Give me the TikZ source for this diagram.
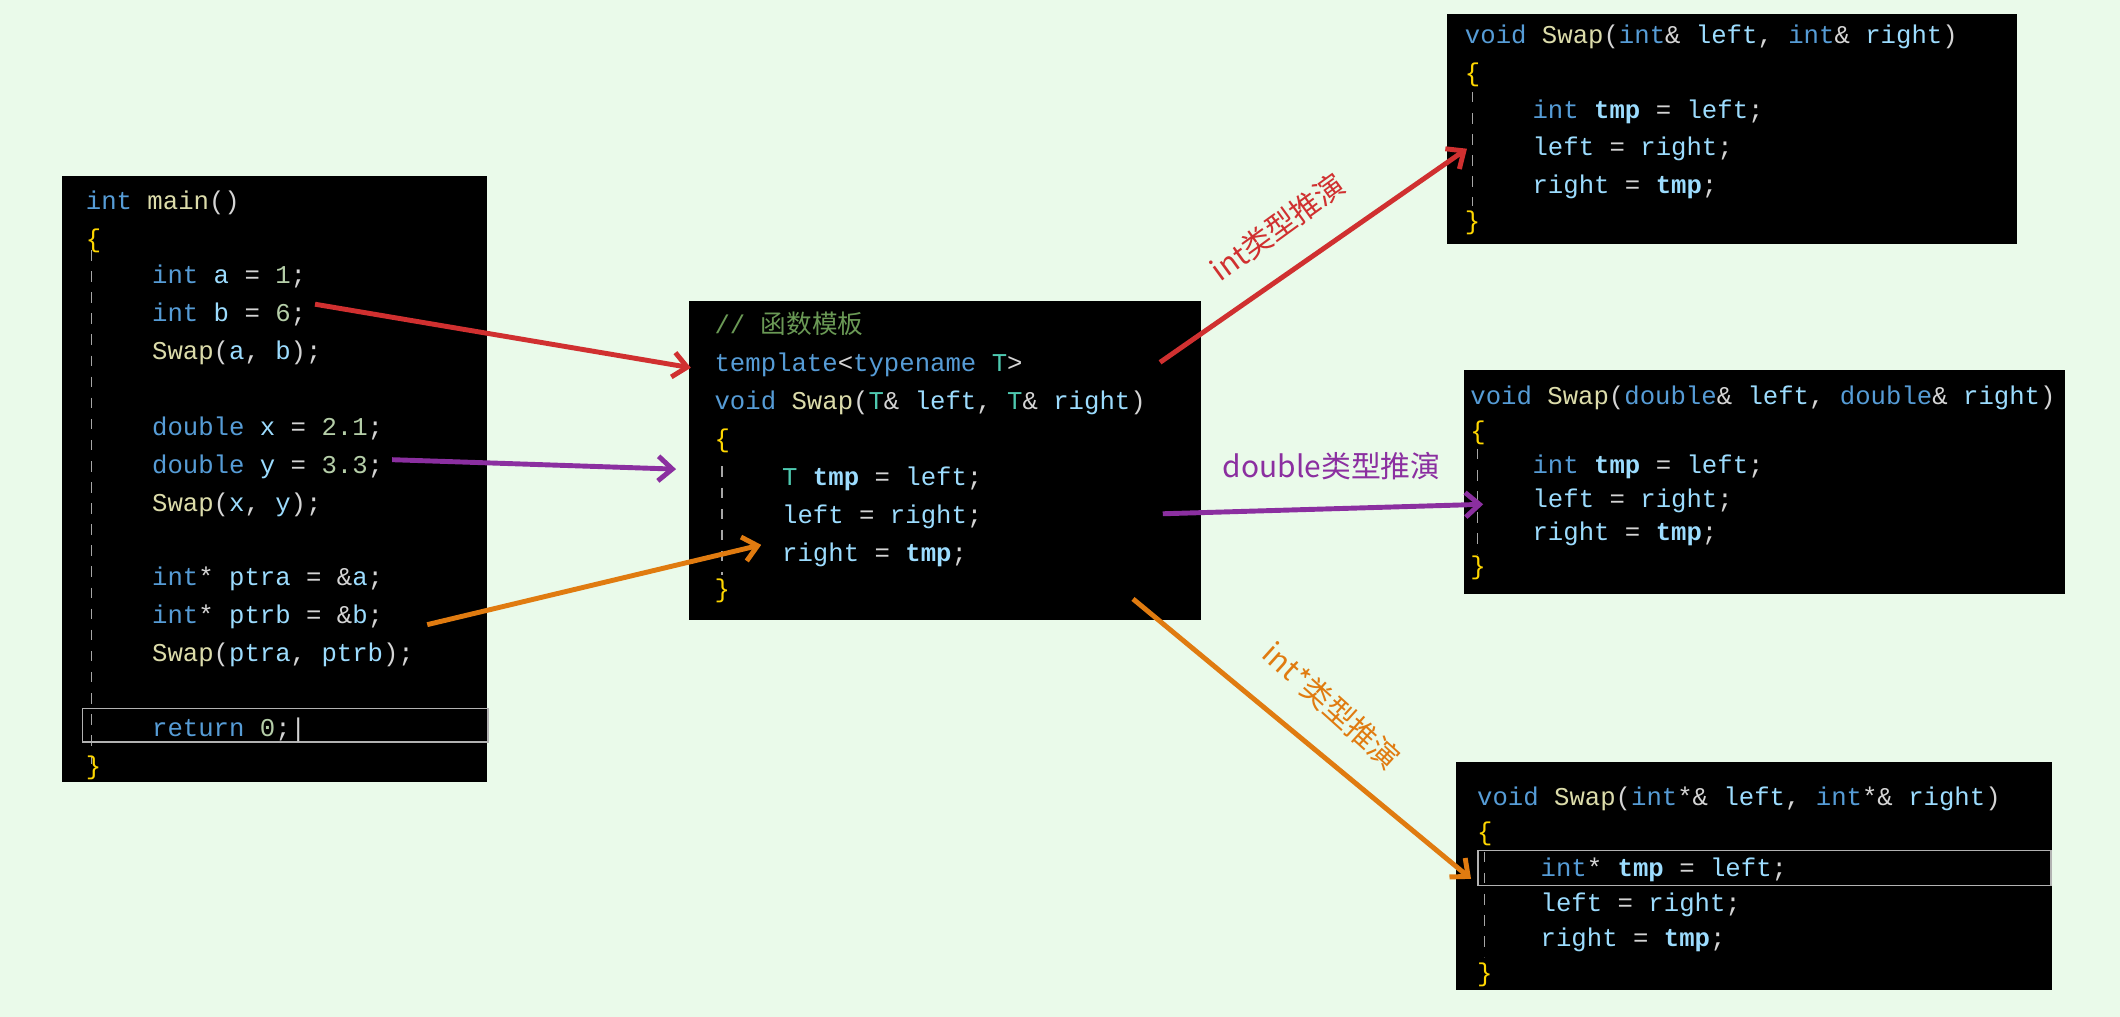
\documentclass[tikz,border=0pt]{standalone}
\usepackage{fontspec}
\setmainfont{Liberation Mono}
\newfontfamily\cjk{Noto Sans CJK SC}
\usetikzlibrary{arrows.meta}
\definecolor{bgc}{HTML}{EAFAEA}
\definecolor{ckwc}{HTML}{569CD6}
\definecolor{cfnc}{HTML}{DCDCAA}
\definecolor{cvarc}{HTML}{9CDCFE}
\definecolor{cnumc}{HTML}{B5CEA8}
\definecolor{ccmc}{HTML}{6A9955}
\definecolor{cbrc}{HTML}{FFD700}
\definecolor{ctxc}{HTML}{D4D4D4}
\definecolor{ctyc}{HTML}{4EC9B0}
\definecolor{ared}{HTML}{D03030}
\definecolor{apur}{HTML}{8B2FA0}
\definecolor{aora}{HTML}{E07B10}
\newcommand\ckw[1]{\textcolor{ckwc}{#1}}
\newcommand\cfn[1]{\textcolor{cfnc}{#1}}
\newcommand\cvar[1]{\textcolor{cvarc}{#1}}
\newcommand\cnum[1]{\textcolor{cnumc}{#1}}
\newcommand\cbr[1]{\textcolor{cbrc}{#1}}
\newcommand\cty[1]{\textcolor{ctyc}{#1}}
\newcommand\ctmp{\textcolor{cvarc}{\bfseries tmp}}
\begin{document}
\begin{tikzpicture}[x=0.01352cm,y=-0.01352cm,
  code/.style={anchor=base west,inner sep=0pt,text=ctxc,font=\fontsize{7.3}{9}\selectfont},
  box/.style={fill=black,draw=none},
  guide/.style={draw=gray!70,dashed,line width=0.3pt},
  arr/.style={line width=1.4pt,-{Straight Barb[length=4pt,width=7pt]}},
  lab/.style={font=\cjk\fontsize{8.5}{10}\selectfont,inner sep=0pt}]
\fill[bgc] (0,0) rectangle (1568,752);
\useasboundingbox (0,0) rectangle (1568,752);
% boxes
\node[box,minimum width=315*0.01352cm,minimum height=448*0.01352cm,anchor=north west] (mainbox) at (45,130) {};
\node[box,minimum width=379*0.01352cm,minimum height=236*0.01352cm,anchor=north west] (tplbox) at (509,222) {};
\node[box,minimum width=421*0.01352cm,minimum height=170*0.01352cm,anchor=north west] (intbox) at (1070,10) {};
\node[box,minimum width=445*0.01352cm,minimum height=166*0.01352cm,anchor=north west] (dblbox) at (1082,273) {};
\node[box,minimum width=441*0.01352cm,minimum height=169*0.01352cm,anchor=north west] (ptrbox) at (1076,563) {};
% main
\draw[guide] (68,185) -- (68,565);
\draw[gray!60,line width=0.5pt] (61,524) rectangle (361,549);
\node[code] (m1) at (63,155) {\ckw{int} \cfn{main}()};
\node[code] (m2) at (63,183) {\cbr{\{}};
\node[code] (m3) at (112,210) {\ckw{int} \cvar{a} = \cnum{1};};
\node[code] (m4) at (112,238) {\ckw{int} \cvar{b} = \cnum{6};};
\node[code] (m5) at (112,266) {\cfn{Swap}(\cvar{a}, \cvar{b});};
\node[code] (m6) at (112,322) {\ckw{double} \cvar{x} = \cnum{2.1};};
\node[code] (m7) at (112,350) {\ckw{double} \cvar{y} = \cnum{3.3};};
\node[code] (m8) at (112,378) {\cfn{Swap}(\cvar{x}, \cvar{y});};
\node[code] (m9) at (112,433) {\ckw{int}* \cvar{ptra} = \&\cvar{a};};
\node[code] (m10) at (112,461) {\ckw{int}* \cvar{ptrb} = \&\cvar{b};};
\node[code] (m11) at (112,489) {\cfn{Swap}(\cvar{ptra}, \cvar{ptrb});};
\node[code] (m12) at (112,545) {\ckw{return} \cnum{0};|};
\node[code] (m13) at (63,573) {\cbr{\}}};
% template
\draw[guide] (534,345) -- (534,425);
\node[code] (t1) at (528,247) {\textcolor{ccmc}{// {\cjk 函数模板}}};
\node[code] (t2) at (528,275) {\ckw{template}<\ckw{typename} \cty{T}>};
\node[code] (t3) at (528,303) {\ckw{void} \cfn{Swap}(\cty{T}\& \cvar{left}, \cty{T}\& \cvar{right})};
\node[code] (t4) at (528,331) {\cbr{\{}};
\node[code] (t5) at (578,359) {\cty{T} \ctmp{} = \cvar{left};};
\node[code] (t6) at (578,387) {\cvar{left} = \cvar{right};};
\node[code] (t7) at (578,415) {\cvar{right} = \ctmp;};
\node[code] (t8) at (528,442) {\cbr{\}}};
% int
\draw[guide] (1089,68) -- (1089,152);
\node[code] (i1) at (1083,32) {\ckw{void} \cfn{Swap}(\ckw{int}\& \cvar{left}, \ckw{int}\& \cvar{right})};
\node[code] (i2) at (1083,60) {\cbr{\{}};
\node[code] (i3) at (1133,88) {\ckw{int} \ctmp{} = \cvar{left};};
\node[code] (i4) at (1133,115) {\cvar{left} = \cvar{right};};
\node[code] (i5) at (1133,143) {\cvar{right} = \ctmp;};
\node[code] (i6) at (1083,170) {\cbr{\}}};
% double
\draw[guide] (1093,332) -- (1093,410);
\node[code] (d1) at (1087,299) {\ckw{void} \cfn{Swap}(\ckw{double}\& \cvar{left}, \ckw{double}\& \cvar{right})};
\node[code] (d2) at (1087,325) {\cbr{\{}};
\node[code] (d3) at (1133,350) {\ckw{int} \ctmp{} = \cvar{left};};
\node[code] (d4) at (1133,375) {\cvar{left} = \cvar{right};};
\node[code] (d5) at (1133,400) {\cvar{right} = \ctmp;};
\node[code] (d6) at (1087,425) {\cbr{\}}};
% int*
\draw[guide] (1098,630) -- (1098,708);
\draw[gray!60,line width=0.5pt] (1093,629) rectangle (1517,655);
\node[code] (p1) at (1092,596) {\ckw{void} \cfn{Swap}(\ckw{int}*\& \cvar{left}, \ckw{int}*\& \cvar{right})};
\node[code] (p2) at (1092,622) {\cbr{\{}};
\node[code] (p3) at (1139,648) {\ckw{int}* \ctmp{} = \cvar{left};};
\node[code] (p4) at (1139,674) {\cvar{left} = \cvar{right};};
\node[code] (p5) at (1139,700) {\cvar{right} = \ctmp;};
\node[code] (p6) at (1092,726) {\cbr{\}}};
% arrow coordinates
\coordinate (ra) at (233,225); \coordinate (rb) at (511,272);
\coordinate (rc) at (858,268); \coordinate (rd) at (1085,110);
\coordinate (pa) at (290,340); \coordinate (pb) at (500,347);
\coordinate (pc) at (860,380); \coordinate (pd) at (1097,373);
\coordinate (oa) at (316,462); \coordinate (ob) at (563,403);
\coordinate (oc) at (838,443); \coordinate (od) at (1088,650);
\draw[arr,ared] (ra) -- (rb);
\draw[arr,ared] (rc) -- (rd);
\draw[arr,apur] (pa) -- (pb);
\draw[arr,apur] (pc) -- (pd);
\draw[arr,aora] (oa) -- (ob);
\draw[arr,aora] (oc) -- (od);
\node[lab,text=ared,rotate=36] (l1) at (945,168) {int类型推演};
\node[lab,text=apur] (l2) at (985,345) {double类型推演};
\node[lab,text=aora,rotate=-42] (l3) at (985,522) {int*类型推演};
\end{tikzpicture}
\end{document}
